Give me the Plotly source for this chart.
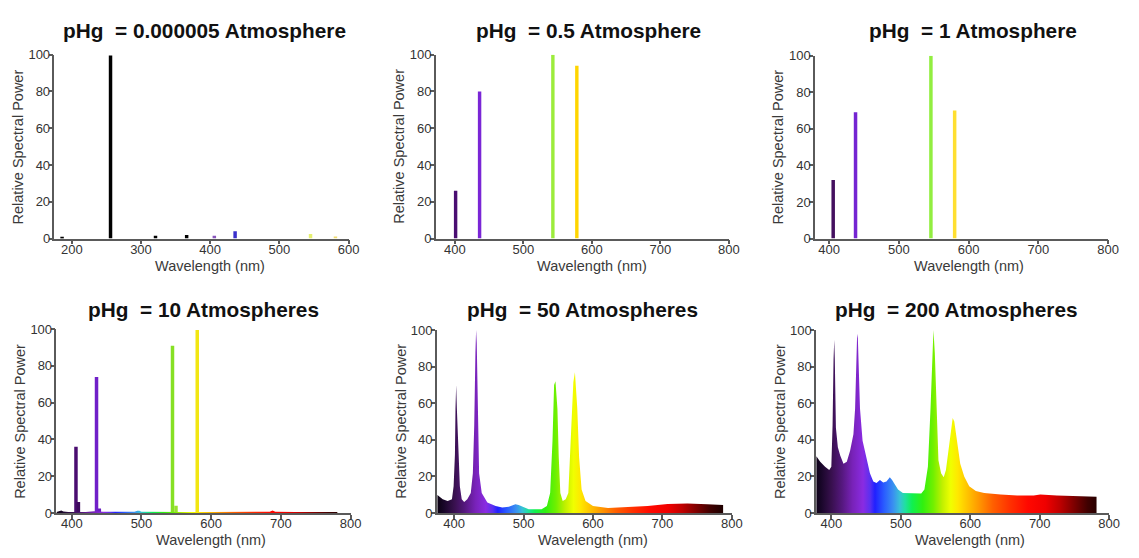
import plotly.graph_objects as go

# ---------------- data ----------------
# Panel 1: pHg = 0.000005 atm (line spectrum)
P1_WL = [186, 256, 321, 366, 406, 436, 545, 581]
P1_VAL = [1.0, 99.5, 1.5, 2.0, 1.5, 4.0, 2.5, 1.2]
P1_COL = ['#000000', '#000000', '#000000', '#000000', '#8855bb', '#3a30cc', '#e6f070', '#f0dc70']

# Panel 2: pHg = 0.5 atm
P2_WL = [401, 436, 543, 578]
P2_VAL = [26, 80, 100, 94]
P2_COL = ['#4a0e72', '#7a26d6', '#9cec3c', '#ffd500']

# Panel 3: pHg = 1 atm
P3_WL = [406, 438, 546, 580]
P3_VAL = [32, 69, 100, 70]
P3_COL = ['#44105f', '#7424d2', '#92ee40', '#ffdf30']

# Panel 4: pHg = 10 atm (lines + weak continuum)
P4_WL = [406, 409.5, 435.5, 439.5, 544.5, 549.5, 580]
P4_VAL = [36, 6, 74, 2.5, 91, 4, 99.5]
P4_COL = ['#4a0d70', '#3e0a5e', '#7020c8', '#6a1cc0', '#86e024', '#9ae030', '#f2e612']
P4_CONT_WL = [378, 382, 385, 388, 395, 420, 432, 445, 470, 490, 494, 497, 500, 520, 560, 600, 650, 684, 688, 692, 720, 760, 781]
P4_CONT_VAL = [0.6, 0.9, 1.4, 0.8, 0.6, 0.6, 0.9, 0.7, 0.6, 0.7, 1.2, 1.2, 0.7, 0.6, 0.6, 0.6, 0.6, 0.7, 1.4, 0.7, 0.6, 0.6, 0.6]

# Panel 5: pHg = 50 atm (continuous spectrum)
P5_WL = [376, 383.6, 390.7, 396.9, 399.3, 401.2, 402, 403, 404, 406, 408.3, 411, 414.5, 419, 424, 427,
         429, 430.7, 431.7, 432.6, 434, 436, 439.8, 447.9, 459.8, 469.3, 478.8, 488.3, 493, 500, 507.4,
         517, 526, 533.6, 538.3, 541.7, 544, 546, 548.8, 550.7, 553, 556.4, 560.7, 564.5, 568.3, 571.7,
         574, 577.4, 580, 583.6, 589.3, 600, 621.6, 650, 678.8, 707.4, 736, 764.5, 787.4]
P5_VAL = [9.8, 7.5, 6.6, 7.5, 14.6, 32, 57, 70, 57, 32, 14.6, 7.5, 6, 7.5, 11, 21.7,
          48, 87.5, 100, 93, 57, 21.7, 11, 5.7, 3.9, 3.0, 3.4, 4.8, 4.4, 3.4, 2.1,
          2.0, 2.1, 3.9, 11, 39.5, 70, 72, 57, 30.6, 11, 6.6, 7.5, 11, 39.5, 71.5,
          77, 57, 30.6, 12.8, 6.6, 3.9, 2.7, 3.2, 3.9, 5.0, 5.2, 4.8, 4.4]

# Panel 6: pHg = 200 atm (continuous spectrum)
P6_WL = [378.5, 384, 391, 397, 400, 401.8, 403.2, 404.2, 405, 406.6, 409.4, 412.8, 417.5, 422.3, 427,
         431.8, 434.2, 436, 437, 438, 439, 441.3, 445, 450.9, 455.6, 460.4, 465, 470, 474.7, 479.4,
         484.2, 487.5, 491.3, 496, 503, 515, 529.4, 534, 539, 542.8, 545.6, 547, 549, 551.3, 554.2,
         558, 561.8, 565, 570, 574.7, 577, 580.9, 585.6, 591.3, 598.5, 608, 620, 643.7, 667.5, 691.3,
         700.8, 724.7, 748.5, 781.8]
P6_VAL = [31, 28, 25.3, 23.5, 25.3, 48, 84, 94.7, 84, 46.6, 36, 31.5, 27, 28, 34,
          43, 57, 87.5, 95.5, 98, 84, 57, 39.5, 28.8, 21.7, 17.3, 16.4, 18.1, 16.7, 17.3,
          19.6, 18.1, 15.5, 12.8, 11, 10.7, 10.7, 12.8, 25.3, 57, 89, 100, 87.5, 57, 28.8,
          21.7, 19.6, 23.5, 39.5, 52, 50, 39.5, 27, 20, 14.6, 12, 11, 10.1, 9.6, 9.6,
          10.1, 9.6, 9.3, 8.9]

TITLES = ['pHg\u00a0 = 0.000005 Atmosphere', 'pHg\u00a0 = 0.5 Atmosphere', 'pHg\u00a0 = 1 Atmosphere',
          'pHg\u00a0 = 10 Atmospheres', 'pHg\u00a0 = 50 Atmospheres', 'pHg\u00a0 = 200 Atmospheres']
X_TICKS_UV = [200, 300, 400, 500, 600]
X_TICKS_VIS = [400, 500, 600, 700, 800]
Y_TICKS = [0, 20, 40, 60, 80, 100]

# ---------------- style ----------------
SPEC_WL = [375, 385, 400, 415, 430, 445, 455, 462, 475, 488, 497, 505, 515, 530, 545, 558,
           570, 580, 595, 610, 630, 655, 680, 705, 725, 745, 765, 790]
SPEC_COL = ['#0a0010', '#180628', '#38104e', '#55187e', '#7822b8', '#8a2be2', '#5a30f0', '#2020ff',
            '#2a5cff', '#3a90f0', '#38c0d8', '#20e0a0', '#10f050', '#30f010', '#70f000', '#c0f000',
            '#f0ff00', '#ffe800', '#ffc000', '#ff9800', '#ff6000', '#ff3000', '#ff0800', '#f00000',
            '#c00000', '#800000', '#400000', '#100000']
w0, w1 = SPEC_WL[0], SPEC_WL[-1]
SPEC_SCALE = [[(w - w0) / (w1 - w0), c] for w, c in zip(SPEC_WL, SPEC_COL)]

W, H = 1139, 558
FONT = 'Liberation Sans, Arial, sans-serif'


def fx(px):
    return px / W


def fy(px):
    return 1 - px / H


# pixel geometry of each panel: (left, right, top, bottom), x range
PANELS = [
    (55, 352, 49, 238, [175, 600], X_TICKS_UV),
    (440, 736, 49, 238, [372, 800], X_TICKS_VIS),
    (823, 1119, 50, 238, [380, 800], X_TICKS_VIS),
    (57, 354, 331, 520, [378, 800], X_TICKS_VIS),
    (441, 739, 332, 520, [375, 800], X_TICKS_VIS),
    (824, 1120, 332, 520, [378, 800], X_TICKS_VIS),
]
TITLE_POS = [(206, 24), (594, 24), (982, 24), (205, 311), (588, 311), (966, 311)]

fig = go.Figure()

bar_sets = [(P1_WL, P1_VAL, P1_COL), (P2_WL, P2_VAL, P2_COL), (P3_WL, P3_VAL, P3_COL), (P4_WL, P4_VAL, P4_COL)]
for i, (wl, val, col) in enumerate(bar_sets):
    ax = '' if i == 0 else str(i + 1)
    fig.add_trace(go.Bar(x=wl, y=val, width=5, marker=dict(color=col, line=dict(width=0)),
                         xaxis='x' + ax, yaxis='y' + ax, showlegend=False))


def spectrum_fill(wl, val, ax):
    return go.Scatter(x=wl, y=val, mode='lines', line=dict(width=0), fill='tozeroy',
                      fillgradient=dict(type='horizontal', start=w0, stop=w1, colorscale=SPEC_SCALE),
                      xaxis='x' + ax, yaxis='y' + ax, showlegend=False, hoverinfo='skip')


fig.add_trace(spectrum_fill(P4_CONT_WL, P4_CONT_VAL, '4'))
fig.add_trace(spectrum_fill(P5_WL, P5_VAL, '5'))
fig.add_trace(spectrum_fill(P6_WL, P6_VAL, '6'))

axis_common = dict(showline=True, linecolor='#5a5a5a', linewidth=1.5, ticks='outside', ticklen=4,
                   tickcolor='#5a5a5a', tickwidth=1.5, showgrid=False, zeroline=False,
                   tickfont=dict(family=FONT, size=13, color='#333333'), fixedrange=True)

annotations = []
for i, (l, r, t, b, xr, xt) in enumerate(PANELS):
    ax = '' if i == 0 else str(i + 1)
    fig.layout['xaxis' + ax] = dict(axis_common, domain=[fx(l), fx(r)], range=xr, tickvals=xt,
                                    anchor='y' + ax, ticklabelstandoff=-6)
    fig.layout['yaxis' + ax] = dict(axis_common, domain=[fy(b), fy(t)], range=[0, 100], tickvals=Y_TICKS,
                                    anchor='x' + ax, ticklabelstandoff=-4)
    cx, cy = TITLE_POS[i]
    annotations.append(dict(text='<b>' + TITLES[i] + '</b>', x=fx(cx), y=fy(cy), xref='paper', yref='paper',
                            showarrow=False, xanchor='center', yanchor='middle',
                            font=dict(family=FONT, size=20.8, color='#111111')))
    # x title centred on the tick span
    tick_mid = l + (r - l) * ((xt[0] + xt[-1]) / 2 - xr[0]) / (xr[1] - xr[0])
    annotations.append(dict(text='Wavelength (nm)', x=fx(tick_mid), y=fy(b + 28), xref='paper', yref='paper',
                            showarrow=False, xanchor='center', yanchor='middle',
                            font=dict(family=FONT, size=14.5, color='#3a3a3a')))
    annotations.append(dict(text='Relative Spectral Power', x=fx(l - 37), y=fy((t + b) / 2), xref='paper',
                            yref='paper', showarrow=False, xanchor='center', yanchor='middle', textangle=-90,
                            font=dict(family=FONT, size=14.5, color='#3a3a3a')))

fig.update_layout(width=W, height=H, margin=dict(l=0, r=0, t=0, b=0), plot_bgcolor='white',
                  paper_bgcolor='white', barmode='overlay', annotations=annotations, showlegend=False)

fig.write_html('out.html', config={'displayModeBar': False})
